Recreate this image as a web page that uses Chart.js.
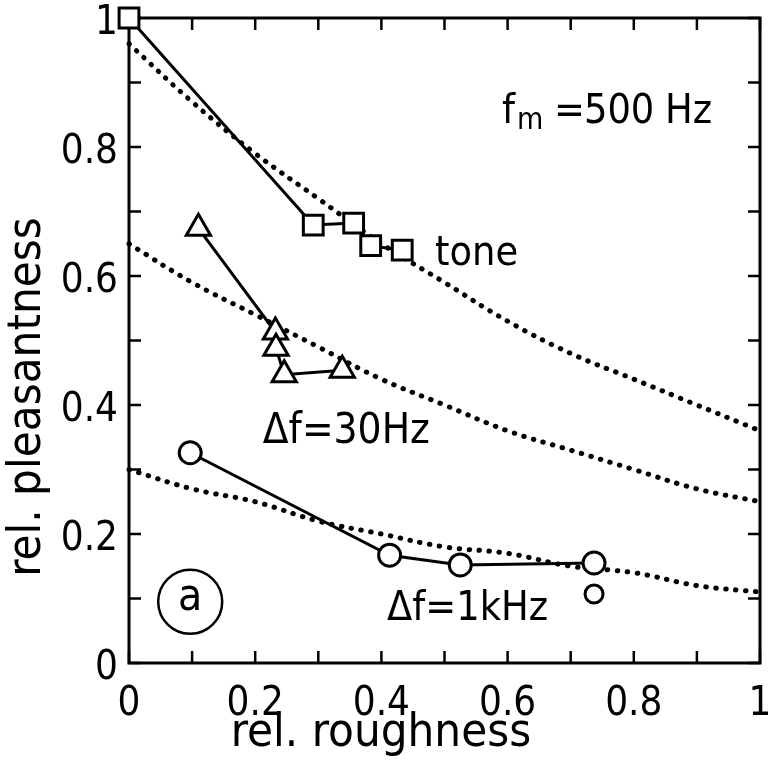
<!DOCTYPE html>
<html>
<head>
<meta charset="utf-8">
<script src="https://cdn.jsdelivr.net/npm/chart.js@4.4.1/dist/chart.umd.min.js"></script>
<style>
  html, body { margin: 0; padding: 0; background: #fff; }
  #wrap { width: 768px; height: 778px; }
</style>
</head>
<body>
<div id="wrap"><canvas id="chart"></canvas></div>
<script>
// measured points (rel. roughness, rel. pleasantness)
const toneX = [0, 0.292, 0.356, 0.383, 0.433];
const toneY = [1.0, 0.679, 0.682, 0.647, 0.640];
const df30X = [0.110, 0.232, 0.233, 0.246, 0.338];
const df30Y = [0.674, 0.513, 0.488, 0.447, 0.454];
const df1kX = [0.097, 0.413, 0.525, 0.737];
const df1kY = [0.326, 0.167, 0.152, 0.155];
const df1kExtraX = [0.737];
const df1kExtraY = [0.107];

// dotted fit curves, read every 0.1
const curveX = [0, 0.1, 0.2, 0.3, 0.4, 0.5, 0.6, 0.7, 0.8, 0.9, 1.0];
const toneCurve = [0.96, 0.87, 0.79, 0.72, 0.65, 0.59, 0.53, 0.48, 0.44, 0.40, 0.36];
const df30Curve = [0.65, 0.59, 0.54, 0.49, 0.44, 0.40, 0.36, 0.33, 0.30, 0.27, 0.25];
const df1kCurve = [0.30, 0.27, 0.25, 0.22, 0.20, 0.18, 0.17, 0.15, 0.14, 0.12, 0.11];

const tickLabels = ['0', '0.2', '0.4', '0.6', '0.8', '1'];

const FONT = '"DejaVu Sans Condensed", "DejaVu Sans", sans-serif';

function pts(xs, ys) {
    return xs.map((x, i) => ({ x: x, y: ys[i] }));
}

function markers(label, xs, ys, style, radius) {
    return {
        label: label,
        data: pts(xs, ys),
        borderColor: '#000',
        backgroundColor: '#fff',
        borderWidth: 3,
        pointStyle: style,
        pointRadius: radius,
        pointBorderWidth: 3,
        pointBackgroundColor: '#fff',
        pointBorderColor: '#000',
        showLine: true,
        tension: 0,
        clip: false
    };
}

function dotted(label, ys) {
    return {
        label: label,
        data: pts(curveX, ys),
        borderColor: '#000',
        borderWidth: 5,
        borderDash: [0.5, 9.5],
        borderCapStyle: 'round',
        pointRadius: 0,
        showLine: true,
        tension: 0.4,
        clip: false
    };
}

// box with inward ticks on all four sides
const frame = {
    id: 'frame',
    beforeDatasetsDraw(chart) {
        const { ctx, chartArea: a, scales } = chart;
        ctx.save();
        ctx.strokeStyle = '#000';
        ctx.lineWidth = 3;
        ctx.strokeRect(a.left, a.top, a.right - a.left, a.bottom - a.top);
        ctx.lineWidth = 2.5;
        const len = 12;
        ctx.beginPath();
        scales.x.ticks.forEach(t => {
            const px = scales.x.getPixelForValue(t.value);
            ctx.moveTo(px, a.bottom); ctx.lineTo(px, a.bottom - len);
            ctx.moveTo(px, a.top); ctx.lineTo(px, a.top + len);
        });
        scales.y.ticks.forEach(t => {
            const py = scales.y.getPixelForValue(t.value);
            ctx.moveTo(a.left, py); ctx.lineTo(a.left + len, py);
            ctx.moveTo(a.right, py); ctx.lineTo(a.right - len, py);
        });
        ctx.stroke();
        ctx.restore();
    }
};

// labels inside the plot and the axis titles
const notes = {
    id: 'notes',
    afterDraw(chart) {
        const { ctx, scales } = chart;
        const X = v => scales.x.getPixelForValue(v);
        const Y = v => scales.y.getPixelForValue(v);
        ctx.save();
        ctx.fillStyle = '#000';
        ctx.strokeStyle = '#000';
        ctx.textBaseline = 'alphabetic';
        ctx.textAlign = 'left';
        ctx.font = '41px ' + FONT;

        // f_m = 500 Hz
        const x = X(0.591), y = Y(0.837);
        ctx.fillText('f', x, y);
        ctx.fillText('=', x + 52, y);
        ctx.fillText('500', x + 82, y);
        ctx.fillText('Hz', x + 163, y);
        ctx.font = '30px ' + FONT;
        ctx.fillText('m', x + 15, y + 6);
        ctx.font = '41px ' + FONT;

        ctx.fillText('tone', X(0.485), Y(0.617));
        ctx.font = '42px ' + FONT;
        ctx.fillText('\u0394f=30Hz', X(0.212), Y(0.341));
        ctx.font = '41px ' + FONT;
        ctx.fillText('\u0394f=1kHz', X(0.409), Y(0.067));

        // circled "a"
        const cx = X(0.097), cy = Y(0.095);
        ctx.lineWidth = 2.5;
        ctx.beginPath();
        ctx.arc(cx, cy, 32, 0, Math.PI * 2);
        ctx.stroke();
        ctx.textAlign = 'center';
        ctx.textBaseline = 'middle';
        ctx.font = '44px ' + FONT;
        ctx.fillText('a', cx, cy - 3);

        // axis titles
        ctx.font = '47px ' + FONT;
        ctx.textBaseline = 'alphabetic';
        ctx.fillText('rel. roughness', 381, 746);
        ctx.translate(40, 397);
        ctx.rotate(-Math.PI / 2);
        ctx.fillText('rel. pleasantness', 0, 0);
        ctx.restore();
    }
};

function fixX(scale) {
    scale.height = 115;
    scale.paddingLeft = 0; scale.paddingRight = 0;
}
function fixY(scale) {
    scale.width = 129;
    scale.paddingTop = 0; scale.paddingBottom = 0;
}

const tickCb = v => {
    const i = Math.round(v * 10);
    return i % 2 === 0 ? tickLabels[i / 2] : '';
};

new Chart(document.getElementById('chart'), {
    type: 'scatter',
    data: {
        datasets: [
            markers('tone', toneX, toneY, 'rect', 14),
            markers('\u0394f=30Hz', df30X, df30Y, 'triangle', 14),
            markers('\u0394f=1kHz', df1kX, df1kY, 'circle', 11),
            Object.assign(markers('\u0394f=1kHz (2)', df1kExtraX, df1kExtraY, 'circle', 9), { showLine: false }),
            dotted('tone fit', toneCurve),
            dotted('30Hz fit', df30Curve),
            dotted('1kHz fit', df1kCurve)
        ]
    },
    options: {
        responsive: true,
        maintainAspectRatio: false,
        animation: false,
        layout: { autoPadding: false, padding: { top: 18, right: 8, left: 0, bottom: 0 } },
        plugins: {
            legend: { display: false },
            tooltip: { enabled: false }
        },
        scales: {
            x: {
                type: 'linear',
                min: 0, max: 1,
                grid: { display: false, drawTicks: false },
                border: { display: false },
                ticks: {
                    stepSize: 0.1,
                    autoSkip: false,
                    maxRotation: 0,
                    padding: 18,
                    color: '#000',
                    font: { family: FONT, size: 40 },
                    callback: tickCb
                },
                afterFit: fixX
            },
            y: {
                type: 'linear',
                min: 0, max: 1,
                grid: { display: false, drawTicks: false },
                border: { display: false },
                ticks: {
                    stepSize: 0.1,
                    autoSkip: false,
                    padding: 11,
                    labelOffset: 6,
                    color: '#000',
                    font: { family: FONT, size: 40 },
                    callback: tickCb
                },
                afterFit: fixY
            }
        }
    },
    plugins: [frame, notes]
});
</script>
</body>
</html>
